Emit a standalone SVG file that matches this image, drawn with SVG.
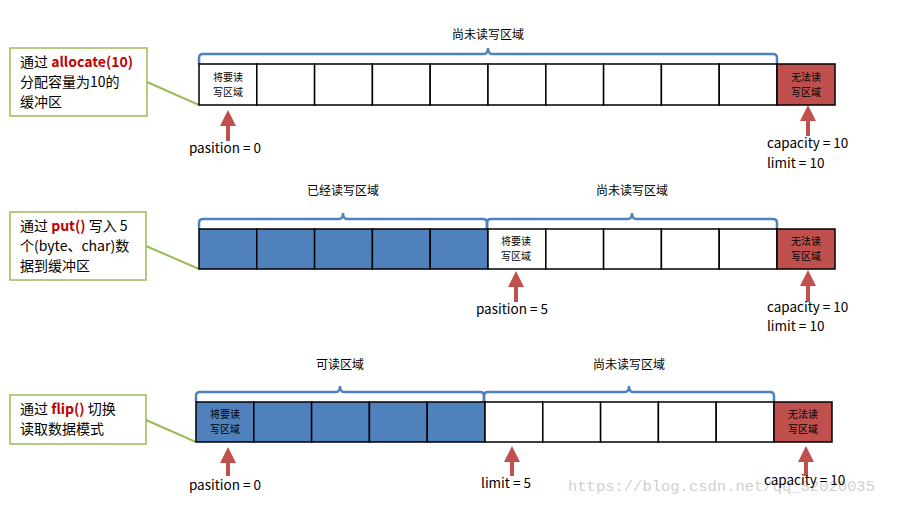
<svg xmlns="http://www.w3.org/2000/svg" width="909" height="505" viewBox="0 0 909 505">
<style>
text{font-family:"Noto Sans CJK SC","Noto Sans",sans-serif;fill:#000}
.c{fill:#fff;stroke:#000;stroke-width:1.5}
.b{fill:#4F81BD;stroke:#000;stroke-width:1.5}
.r{fill:#C0504D;stroke:#000;stroke-width:1.5}
.br{fill:none;stroke:#4F81BD;stroke-width:2.5}
.box{fill:#fff;stroke:#9BBB59;stroke-width:1.5}
.ln{stroke:#9BBB59;stroke-width:2}
.ar{stroke:#C0504D;stroke-width:4}
.s{font-size:10px;text-anchor:middle}
.m{font-size:13.5px}
.k{font-size:14px}
.h{fill:#C00000;font-weight:bold}
</style>
<defs>
<marker id="a" markerWidth="4" markerHeight="4" refX="2" refY="2" orient="auto" markerUnits="strokeWidth"><path d="M0,0 L4,2 L0,4 z" fill="#C0504D"/></marker>
</defs>
<rect width="909" height="505" fill="#fff"/>
<g id="connectors">
<line class="ln" x1="147" y1="82" x2="199" y2="105"/>
<line class="ln" x1="146" y1="246" x2="199" y2="269"/>
<line class="ln" x1="146" y1="420" x2="196" y2="442"/>
<line class="ar" x1="228" y1="141" x2="228" y2="118" marker-end="url(#a)"/>
<line class="ar" x1="808" y1="136" x2="808" y2="113" marker-end="url(#a)"/>
<line class="ar" x1="516" y1="302" x2="516" y2="279" marker-end="url(#a)"/>
<line class="ar" x1="808" y1="302" x2="808" y2="278" marker-end="url(#a)"/>
<line class="ar" x1="228" y1="476" x2="228" y2="455" marker-end="url(#a)"/>
<line class="ar" x1="512" y1="476" x2="512" y2="454" marker-end="url(#a)"/>
<line class="ar" x1="806" y1="476" x2="806" y2="454" marker-end="url(#a)"/>
</g>
<g id="row1">
<path class="br" d="M199,64 V58 Q199,54 203,54 H484 Q488,54 488,48 Q488,54 492,54 H773 Q777,54 777,58 V64"/>
<text x="488" y="39" text-anchor="middle" font-size="12">尚未读写区域</text>
<rect class="c" x="199" y="64" width="57.8" height="41"/><rect class="c" x="256.8" y="64" width="57.8" height="41"/><rect class="c" x="314.6" y="64" width="57.8" height="41"/><rect class="c" x="372.4" y="64" width="57.8" height="41"/><rect class="c" x="430.2" y="64" width="57.8" height="41"/><rect class="c" x="488" y="64" width="57.8" height="41"/><rect class="c" x="545.8" y="64" width="57.8" height="41"/><rect class="c" x="603.6" y="64" width="57.8" height="41"/><rect class="c" x="661.4" y="64" width="57.8" height="41"/><rect class="c" x="719.2" y="64" width="57.8" height="41"/>
<rect class="r" x="777" y="64" width="58" height="41"/>
<text class="s" x="228" y="81">将要读</text><text class="s" x="228" y="96">写区域</text>
<text class="s" x="806" y="81">无法读</text><text class="s" x="806" y="96">写区域</text>
</g>
<g id="row2">
<path class="br" d="M199,229 V223 Q199,219 203,219 H339 Q343,219 343,213 Q343,219 347,219 H483 Q487,219 487,223 V229"/>
<path class="br" d="M487,229 V223 Q487,219 491,219 H628 Q632,219 632,213 Q632,219 636,219 H773 Q777,219 777,223 V229"/>
<text x="343" y="195" text-anchor="middle" font-size="12">已经读写区域</text>
<text x="632" y="195" text-anchor="middle" font-size="12">尚未读写区域</text>
<rect class="b" x="199" y="229" width="57.8" height="40"/><rect class="b" x="256.8" y="229" width="57.8" height="40"/><rect class="b" x="314.6" y="229" width="57.8" height="40"/><rect class="b" x="372.4" y="229" width="57.8" height="40"/><rect class="b" x="430.2" y="229" width="57.8" height="40"/><rect class="c" x="488" y="229" width="57.8" height="40"/><rect class="c" x="545.8" y="229" width="57.8" height="40"/><rect class="c" x="603.6" y="229" width="57.8" height="40"/><rect class="c" x="661.4" y="229" width="57.8" height="40"/><rect class="c" x="719.2" y="229" width="57.8" height="40"/>
<rect class="r" x="777" y="229" width="58" height="40"/>
<text class="s" x="516" y="245">将要读</text><text class="s" x="516" y="260">写区域</text>
<text class="s" x="806" y="245">无法读</text><text class="s" x="806" y="260">写区域</text>
</g>
<g id="row3">
<path class="br" d="M196,402 V396 Q196,392 200,392 H336 Q340,392 340,386 Q340,392 344,392 H480 Q484,392 484,396 V402"/>
<path class="br" d="M484,402 V396 Q484,392 488,392 H625 Q629,392 629,386 Q629,392 633,392 H770 Q774,392 774,396 V402"/>
<text x="340" y="369" text-anchor="middle" font-size="12">可读区域</text>
<text x="629" y="369" text-anchor="middle" font-size="12">尚未读写区域</text>
<rect class="b" x="196" y="402" width="57.8" height="40"/><rect class="b" x="253.8" y="402" width="57.8" height="40"/><rect class="b" x="311.6" y="402" width="57.8" height="40"/><rect class="b" x="369.4" y="402" width="57.8" height="40"/><rect class="b" x="427.2" y="402" width="57.8" height="40"/><rect class="c" x="485" y="402" width="57.8" height="40"/><rect class="c" x="542.8" y="402" width="57.8" height="40"/><rect class="c" x="600.6" y="402" width="57.8" height="40"/><rect class="c" x="658.4" y="402" width="57.8" height="40"/><rect class="c" x="716.2" y="402" width="57.8" height="40"/>
<rect class="r" x="774" y="402" width="58" height="40"/>
<text class="s" x="225" y="418">将要读</text><text class="s" x="225" y="433">写区域</text>
<text class="s" x="803" y="418">无法读</text><text class="s" x="803" y="433">写区域</text>
</g>
<g id="note1"><rect class="box" x="10" y="48" width="137" height="68"/>
<text class="k" x="20" y="67">通过 <tspan class="h">allocate(10)</tspan></text><text class="k" x="20" y="87">分配容量为10的</text><text class="k" x="20" y="107">缓冲区</text></g>
<g id="note2"><rect class="box" x="10" y="212" width="136" height="68"/>
<text class="k" x="20" y="231">通过 <tspan class="h">put()</tspan> 写入 5</text><text class="k" x="20" y="251">个(byte、char)数</text><text class="k" x="20" y="271">据到缓冲区</text></g>
<g id="note3"><rect class="box" x="10" y="395" width="136" height="49"/>
<text class="k" x="20" y="414">通过 <tspan class="h">flip()</tspan> 切换</text><text class="k" x="20" y="434">读取数据模式</text></g>
<g id="labels" class="m">
<text x="568" y="491" style="fill:#d0d0d0;font-family:'Liberation Mono',monospace" font-size="15.5">https://blog.csdn.net/qq_32020035</text>
<text x="225" y="153" text-anchor="middle">pasition = 0</text>
<text x="767" y="148">capacity = 10</text><text x="767" y="168">limit = 10</text>
<text x="512" y="314" text-anchor="middle">pasition = 5</text>
<text x="767" y="312">capacity = 10</text><text x="767" y="331">limit = 10</text>
<text x="225" y="490" text-anchor="middle">pasition = 0</text>
<text x="506" y="488" text-anchor="middle">limit = 5</text>
<text x="764" y="485">capacity = 10</text>
</g>
</svg>
